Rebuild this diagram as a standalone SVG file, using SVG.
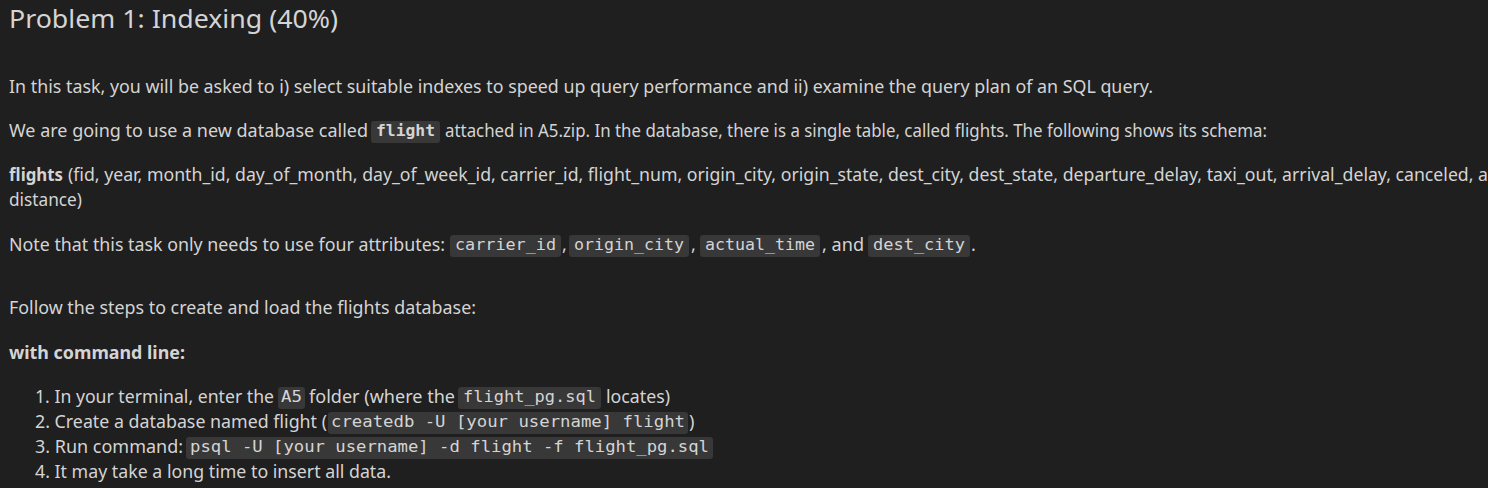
<svg xmlns="http://www.w3.org/2000/svg" width="1488" height="488" viewBox="0 0 1488 488">
<style>
.t{font-family:"Noto Sans","Open Sans",sans-serif;font-size:18px;fill:#d4d4d4}
.b{font-weight:bold}
.c{font-family:"DejaVu Sans Mono","Liberation Mono",monospace;font-size:16px;fill:#d4d4d4}
.r{fill:#383838}
</style>
<rect width="1488" height="488" fill="#1f1f1f"/>
<text x="9" y="28" class="t" style="font-size:26px" textLength="329" lengthAdjust="spacingAndGlyphs">Problem 1: Indexing (40%)</text>
<text x="9" y="93" class="t" textLength="1144" lengthAdjust="spacingAndGlyphs">In this task, you will be asked to i) select suitable indexes to speed up query performance and ii) examine the query plan of an SQL query.</text>
<g id="line2">
<text x="9" y="137" class="t" textLength="359" lengthAdjust="spacingAndGlyphs">We are going to use a new database called</text>
<rect x="371" y="121" width="69" height="22" rx="3" class="r"/>
<text x="376" y="136" class="c b" textLength="59" lengthAdjust="spacingAndGlyphs">flight</text>
<text x="445" y="137" class="t" textLength="822" lengthAdjust="spacingAndGlyphs">attached in A5.zip. In the database, there is a single table, called flights. The following shows its schema:</text>
</g>
<g id="schema">
<text x="9" y="181" class="t b" textLength="54" lengthAdjust="spacingAndGlyphs">flights</text>
<text x="68" y="181" class="t" textLength="1420" lengthAdjust="spacingAndGlyphs">(fid, year, month_id, day_of_month, day_of_week_id, carrier_id, flight_num, origin_city, origin_state, dest_city, dest_state, departure_delay, taxi_out, arrival_delay, canceled, a</text>
<text x="9" y="206" class="t" textLength="73" lengthAdjust="spacingAndGlyphs">distance)</text>
</g>
<g id="note">
<text x="9" y="251" class="t" textLength="436" lengthAdjust="spacingAndGlyphs">Note that this task only needs to use four attributes:</text>
<rect x="450" y="235" width="111" height="22" rx="3" class="r"/>
<text x="455" y="250" class="c" textLength="101" lengthAdjust="spacingAndGlyphs">carrier_id</text>
<text x="562" y="251" class="t">,</text>
<rect x="569" y="235" width="120" height="22" rx="3" class="r"/>
<text x="574" y="250" class="c" textLength="110" lengthAdjust="spacingAndGlyphs">origin_city</text>
<text x="691" y="251" class="t">,</text>
<rect x="700" y="235" width="120" height="22" rx="3" class="r"/>
<text x="705" y="250" class="c" textLength="110" lengthAdjust="spacingAndGlyphs">actual_time</text>
<text x="822" y="251" class="t" textLength="42" lengthAdjust="spacingAndGlyphs">, and</text>
<rect x="868" y="235" width="102" height="22" rx="3" class="r"/>
<text x="873" y="250" class="c" textLength="92" lengthAdjust="spacingAndGlyphs">dest_city</text>
<text x="971" y="251" class="t">.</text>
</g>
<text x="9" y="314" class="t" textLength="467" lengthAdjust="spacingAndGlyphs">Follow the steps to create and load the flights database:</text>
<text x="9" y="359" class="t b" textLength="176" lengthAdjust="spacingAndGlyphs">with command line:</text>
<g id="steps">
<text x="35" y="403" class="t" textLength="239" lengthAdjust="spacingAndGlyphs">1. In your terminal, enter the</text>
<rect x="278" y="387" width="27" height="22" rx="3" class="r"/>
<text x="281" y="402" class="c" textLength="21" lengthAdjust="spacingAndGlyphs">A5</text>
<text x="309" y="403" class="t" textLength="146" lengthAdjust="spacingAndGlyphs">folder (where the</text>
<rect x="458" y="387" width="143" height="22" rx="3" class="r"/>
<text x="463" y="402" class="c" textLength="133" lengthAdjust="spacingAndGlyphs">flight_pg.sql</text>
<text x="606" y="403" class="t" textLength="64" lengthAdjust="spacingAndGlyphs">locates)</text>
<text x="35" y="428" class="t" textLength="292" lengthAdjust="spacingAndGlyphs">2. Create a database named flight (</text>
<rect x="328" y="412" width="360" height="22" rx="3" class="r"/>
<text x="331" y="427" class="c" textLength="354" lengthAdjust="spacingAndGlyphs">createdb -U [your username] flight</text>
<text x="689" y="428" class="t">)</text>
<text x="35" y="453" class="t" textLength="148" lengthAdjust="spacingAndGlyphs">3. Run command:</text>
<rect x="186" y="437" width="527" height="22" rx="3" class="r"/>
<text x="190" y="452" class="c" textLength="519" lengthAdjust="spacingAndGlyphs">psql -U [your username] -d flight -f flight_pg.sql</text>
<text x="35" y="478" class="t" textLength="356" lengthAdjust="spacingAndGlyphs">4. It may take a long time to insert all data.</text>
</g>
</svg>
